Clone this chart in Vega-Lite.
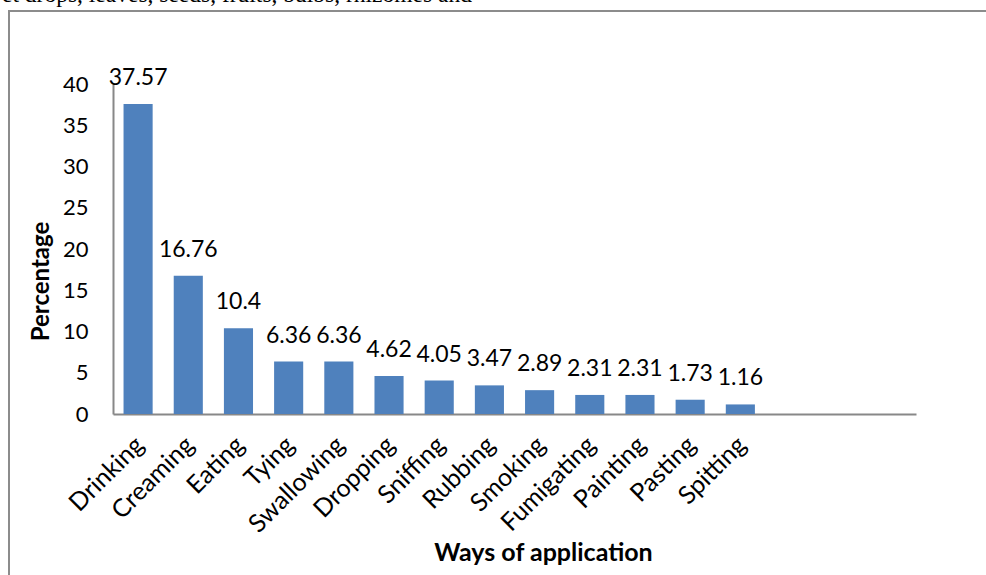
{
  "$schema": "https://vega.github.io/schema/vega-lite/v6.json",
  "description": "Bar chart of the ways of application (percentage), Excel style.",
  "autosize": {"type": "none"},
  "width": 1000,
  "height": 600,
  "padding": {"left": 9, "top": 11, "right": 0, "bottom": 0},
  "title": {
    "text": "et drops, leaves, seeds, fruits, bulbs, rhizomes and",
    "anchor": "start",
    "frame": "group",
    "font": "Liberation Serif",
    "fontSize": 23.5,
    "fontWeight": "normal",
    "color": "#000000",
    "baseline": "alphabetic",
    "offset": -14,
    "dx": -7
  },
  "data": {
    "values": [
      {"way": "Drinking", "pct": 37.57},
      {"way": "Creaming", "pct": 16.76},
      {"way": "Eating", "pct": 10.4},
      {"way": "Tying", "pct": 6.36},
      {"way": "Swallowing", "pct": 6.36},
      {"way": "Dropping", "pct": 4.62},
      {"way": "Sniffing", "pct": 4.05},
      {"way": "Rubbing", "pct": 3.47},
      {"way": "Smoking", "pct": 2.89},
      {"way": "Fumigating", "pct": 2.31},
      {"way": "Painting", "pct": 2.31},
      {"way": "Pasting", "pct": 1.73},
      {"way": "Spitting", "pct": 1.16}
    ]
  },
  "encoding": {
    "x": {
      "field": "way",
      "type": "nominal",
      "sort": null,
      "title": "Ways of application",
      "scale": {
        "domain": ["Drinking", "Creaming", "Eating", "Tying", "Swallowing", "Dropping", "Sniffing", "Rubbing", "Smoking", "Fumigating", "Painting", "Pasting", "Spitting", " ", "  ", "   "],
        "range": [104, 907],
        "paddingInner": 0.42,
        "paddingOuter": 0.21
      },
      "axis": {
        "offset": -197,
        "labelAngle": -45,
        "labelAlign": "right",
        "labelBaseline": "top",
        "labelPadding": 18,
        "labelOffset": -7,
        "labelFontSize": 25,
        "ticks": false,
        "titleX": 534,
        "titleY": 146,
        "titleAlign": "center",
        "titleBaseline": "alphabetic",
        "titleFontSize": 25
      }
    },
    "y": {
      "field": "pct",
      "type": "quantitative",
      "title": "Percentage",
      "scale": {"domain": [0, 40], "range": [403, 73], "nice": false},
      "axis": {
        "offset": -104,
        "values": [0, 5, 10, 15, 20, 25, 30, 35, 40],
        "ticks": false,
        "grid": false,
        "labelPadding": 25,
        "titleX": -60,
        "titleY": 270,
        "titleAlign": "center",
        "titleBaseline": "bottom",
        "titleAngle": -90,
        "titleFontSize": 24
      }
    }
  },
  "layer": [
    {"mark": {"type": "bar", "color": "#4F81BD"}},
    {
      "mark": {"type": "text", "baseline": "alphabetic", "align": "center", "dy": -19, "font": "Lato", "fontSize": 23, "color": "#000000"},
      "encoding": {"text": {"field": "pct", "type": "quantitative"}}
    }
  ],
  "config": {
    "view": {"stroke": "#8c8c8c", "strokeWidth": 2},
    "axis": {
      "domainColor": "#888888",
      "domainWidth": 2,
      "labelFont": "Lato",
      "labelFontSize": 22,
      "labelColor": "#000000",
      "titleFont": "Lato",
      "titleFontSize": 22,
      "titleFontWeight": "bold",
      "titleColor": "#000000"
    }
  }
}
